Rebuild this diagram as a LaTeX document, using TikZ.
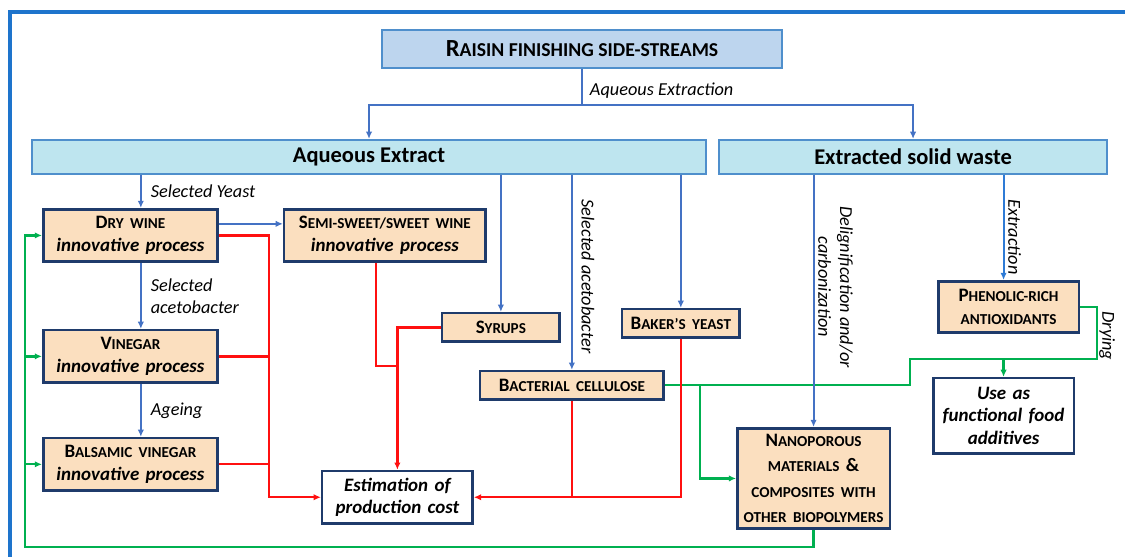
\documentclass[tikz,border=0pt]{standalone}
\usepackage{fontspec}
\setmainfont{Carlito}
\usetikzlibrary{arrows.meta,positioning,calc}
\definecolor{peach}{HTML}{FBDFBF}
\definecolor{navy}{HTML}{1F3B6B}
\definecolor{iceblue}{HTML}{BEE5EF}
\definecolor{skyline}{HTML}{4F8FCC}
\definecolor{paleblue}{HTML}{BDD5EE}
\definecolor{flow}{HTML}{4472C4}
\definecolor{flowbright}{HTML}{2E7BD6}
\definecolor{framecol}{HTML}{1E74CC}
\definecolor{costred}{HTML}{FF1010}
\definecolor{reuse}{HTML}{00B050}
\newcommand{\sm}[1]{{\fontsize{10.8}{16}\selectfont #1}}

\begin{document}
\begin{tikzpicture}[proc/.style={draw=navy,line width=1.8pt,fill=peach,align=center,inner sep=0pt,font=\fontsize{13.5}{16}\selectfont\bfseries},goal/.style={proc,fill=white,font=\fontsize{13.5}{16}\selectfont\bfseries\itshape},stream/.style={draw=skyline,line width=1.6pt,fill=iceblue,inner sep=0pt,font=\fontsize{16}{18}\selectfont\bfseries},lbl/.style={inner sep=0pt,align=center,font=\fontsize{13}{15.5}\selectfont\itshape},arr/.style={-{Latex[length=1.8mm,width=1.6mm]},line width=1.4pt,draw=flow},rline/.style={line width=1.6pt,draw=costred},rarr/.style={rline,-{Latex[length=1.8mm,width=1.6mm]}},gline/.style={line width=1.6pt,draw=reuse},garr/.style={gline,-{Latex[length=1.8mm,width=1.6mm]}},frame/.style={line width=2.4pt,draw=framecol}]
\useasboundingbox (0,0) rectangle (281.25mm,-139mm);
\draw[frame] (282mm,-3mm) -- (2.5mm,-3mm) -- (2.5mm,-140mm);
% side-streams and the two extracts
\node[stream,fill=paleblue,minimum width=99.9mm,minimum height=9.4mm,font=\fontsize{17.5}{20}\selectfont\bfseries] (raisin) at (145.5mm,-12.25mm) {R{\fontsize{14}{16}\selectfont AISIN FINISHING SIDE-STREAMS}};
\node[stream,minimum width=168.45mm,minimum height=8.45mm,below=17.5mm of raisin,xshift=-53.25mm] (aq) {Aqueous Extract};
\node[stream,minimum width=96.95mm,minimum height=8.45mm,right=2.75mm of aq] (waste) {Extracted solid waste};
% products
\node[proc,text width=43.6mm,minimum height=13.1mm,below right=8.25mm and 2.75mm of aq.south west] (dry) {D\sm{RY WINE}\\\textit{innovative process}};
\node[proc,text width=43.6mm,minimum height=13.1mm,below=16.5mm of dry] (vin) {V\sm{INEGAR}\\\textit{innovative process}};
\node[proc,text width=43.6mm,minimum height=13.1mm,below=13.25mm of vin] (bal) {B\sm{ALSAMIC VINEGAR}\\\textit{innovative process}};
\node[proc,text width=50.35mm,minimum height=13.1mm,right=16mm of dry] (semi) {S\sm{EMI-SWEET/SWEET WINE}\\\textit{innovative process}};
\node[proc,text width=29.35mm,minimum height=7.1mm,below=12.25mm of semi,xshift=29mm] (syr) {S\sm{YRUPS}};
\node[proc,text width=29.35mm,minimum height=7.1mm,right=15mm of syr,yshift=1mm] (bak) {B\sm{AKER’S YEAST}};
\node[proc,text width=45.85mm,minimum height=7.1mm,below=6.75mm of syr,xshift=17.75mm] (bac) {B\sm{ACTERIAL CELLULOSE}};
\node[goal,text width=37.6mm,minimum height=13.1mm,below=17.25mm of bac,xshift=-43.625mm] (cost) {Estimation of\\production cost};
\node[proc,text width=38.1mm,minimum height=25.1mm,below=63mm of waste,xshift=-24.875mm,font=\fontsize{13.5}{18}\selectfont\bfseries] (nano) {N\sm{ANOPOROUS}\\\sm{MATERIALS} \&\\\sm{COMPOSITES WITH}\\\sm{OTHER BIOPOLYMERS}};
\node[proc,text width=35.1mm,minimum height=12.85mm,below=26.25mm of waste,xshift=23.875mm] (phen) {P\sm{HENOLIC-RICH}\\\sm{ANTIOXIDANTS}};
\node[goal,text width=35.1mm,minimum height=18.85mm,below=10.75mm of phen,xshift=-1.25mm] (use) {Use as\\functional food\\additives};
% reuse loops (green)
\coordinate (gturn) at ($(phen.east)+(4.25mm,-13mm)$);
\coordinate (gstep) at ($(bac.east)+(61.25mm,0)$);
\coordinate (gbranch) at ($(bac.east)+(8.75mm,0)$);
\coordinate (gleft) at ($(dry.west)+(-4.25mm,0)$);
\coordinate (gbottom) at ($(nano.south)+(0,-4.25mm)$);
\draw[gline] (phen.east) -| (gturn) -| (gstep) -- (bac.east);
\node[lbl,rotate=-90] at ($(gturn)+(2.5mm,5.75mm)$) {Drying};
\draw[garr] (gturn -| use.north) -- (use.north);
\draw[garr] (gbranch) |- (nano.west);
\draw[garr] (nano.south) -- (gbottom) -| (gleft) -- (dry.west);
\draw[garr] (gleft |- vin.west) -- (vin.west);
\draw[garr] (gleft |- bal.west) -- (bal.west);
% process flow (blue)
\coordinate[below=9mm of raisin] (split);
\coordinate (dryin) at ($(dry.north)+(2.6mm,0)$);
\draw[arr] (raisin) -- node[lbl,right=1.75mm,pos=0.6]{Aqueous Extraction} (split) -| (aq.north);
\draw[arr] (split) -| (waste.north);
\draw[arr] (aq.south -| dryin) -- node[lbl,right=2.25mm]{Selected Yeast} (dryin);
\draw[arr] (dryin |- dry.south) -- node[lbl,right=2.25mm,align=left]{Selected\\acetobacter} (dryin |- vin.north);
\draw[arr] (dryin |- vin.south) -- node[lbl,right=2.25mm]{Ageing} (dryin |- bal.north);
\draw[arr] ([yshift=2.9mm]dry.east) -- ([yshift=2.9mm]semi.west);
\draw[arr] (aq.south -| syr.north) -- (syr.north);
\draw[arr] (aq.south -| bac.north) -- (bac.north);
\node[lbl,rotate=-90] at ($(aq.south -| bac.north)!0.5!(bac.north)+(4mm,-1mm)$) {Selected acetobacter};
\draw[arr] (aq.south -| bak.north) -- (bak.north);
\draw[arr] (waste.south -| nano.north) -- (nano.north);
\node[lbl,rotate=-90] at ($(waste.south -| nano.north)+(5.5mm,-28mm)$) {Delignification and/or\\carbonization};
\draw[arr,draw=flowbright] (waste.south -| use.north) -- (use.north |- phen.north);
\node[lbl,rotate=-90] at ($(waste.south -| use.north)+(2.75mm,-15.5mm)$) {Extraction};
% cost estimation (red)
\coordinate (redbus) at ($(dry.east)+(12.5mm,0)$);
\draw[rarr] (dry.east) -| (redbus |- cost.west) -- (cost.west);
\draw[rline] (vin.east) -- (vin.east -| redbus);
\draw[rline] (bal.east) -- (bal.east -| redbus);
\draw[rline] ([xshift=-2.25mm]semi.south) |- ($(cost.north)+(0,26mm)$);
\draw[rarr] (syr.west) -| (cost.north);
\draw[rarr] (bak.south) |- (cost.east);
\draw[rline] (bac.south) -- (bac.south |- cost.east);
\end{tikzpicture}
\end{document}
